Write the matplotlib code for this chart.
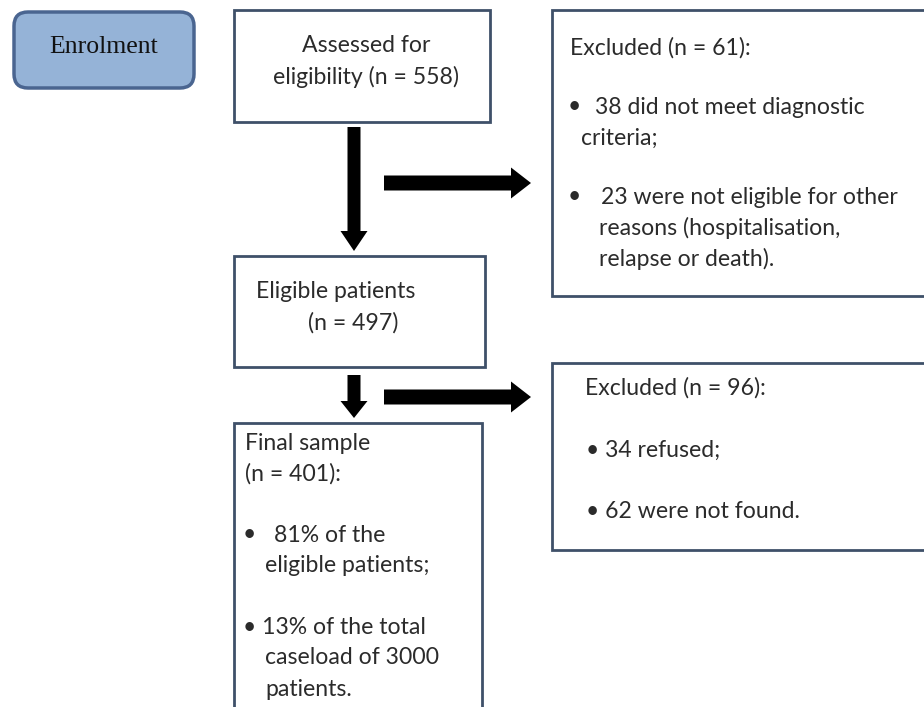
import matplotlib.pyplot as plt
from matplotlib.patches import FancyBboxPatch, Rectangle, FancyArrow

# Numbers of the enrolment flow
n_assessed = 558
n_excluded_1 = 61
n_no_criteria = 38
n_other_reasons = 23
n_eligible = 497
n_excluded_2 = 96
n_refused = 34
n_not_found = 62
n_final = 401
pct_eligible = 81
pct_caseload = 13
caseload = 3000

W, H = 924, 707
fig = plt.figure(figsize=(W / 100, H / 100), dpi=100)
ax = fig.add_axes([0, 0, 1, 1])
ax.set_xlim(0, W)
ax.set_ylim(H, 0)
ax.axis('off')

edge = '#3f5069'
txt = '#2b2b2b'
font = 'Lato'
fs = 16.6


def box(x0, y0, x1, y1):
    ax.add_patch(Rectangle((x0, y0), x1 - x0, y1 - y0, facecolor='white',
                           edgecolor=edge, linewidth=2.0))


def line(x, y, s, ha='left'):
    ax.text(x, y, s, ha=ha, va='center', fontsize=fs, color=txt, family=font)


# Enrolment label
ax.add_patch(FancyBboxPatch((14, 12), 180, 76, boxstyle='round,pad=0,rounding_size=14',
                            facecolor='#95b3d7', edgecolor='#4a6590', linewidth=2.5))
ax.text(104, 47, 'Enrolment', ha='center', va='center', fontsize=18.5,
        family='Liberation Serif', color='#111111')

# boxes
box(234, 10, 490, 122)
box(552, 10, 930, 296)
box(234, 256, 485, 367)
box(552, 363, 930, 550)
box(234, 423, 482, 715)

# Assessed
line(366, 46, 'Assessed for', ha='center')
line(366, 77, f'eligibility (n = {n_assessed})', ha='center')

# Excluded 1
line(570, 48, f'Excluded (n = {n_excluded_1}):')
line(568, 107, '•')
line(595, 107, f'{n_no_criteria} did not meet diagnostic')
line(581, 138, 'criteria;')
line(568, 197, '•')
line(601, 197, f'{n_other_reasons} were not eligible for other')
line(599, 228, 'reasons (hospitalisation,')
line(599, 259, 'relapse or death).')

# Eligible
line(336, 292, 'Eligible patients', ha='center')
line(353, 323, f'(n = {n_eligible})', ha='center')

# Excluded 2
line(585, 388, f'Excluded (n = {n_excluded_2}):')
line(586, 450, f'• {n_refused} refused;')
line(586, 511, f'• {n_not_found} were not found.')

# Final sample
line(245, 444, 'Final sample')
line(245, 474, f'(n = {n_final}):')
line(243, 535, '•')
line(274, 535, f'{pct_eligible}% of the')
line(265, 566, 'eligible patients;')
line(243, 627, f'• {pct_caseload}% of the total')
line(265, 658, f'caseload of {caseload}')
line(265, 689, 'patients.')

# arrows
kw = dict(length_includes_head=True, color='black', linewidth=0)
ax.add_patch(FancyArrow(354, 127, 0, 124, width=13, head_width=27, head_length=20, **kw))
ax.add_patch(FancyArrow(384, 183, 147, 0, width=15, head_width=31, head_length=20, **kw))
ax.add_patch(FancyArrow(354, 375, 0, 43, width=13, head_width=27, head_length=17, **kw))
ax.add_patch(FancyArrow(384, 397, 147, 0, width=15, head_width=31, head_length=20, **kw))

fig.savefig('out.png', dpi=100)
